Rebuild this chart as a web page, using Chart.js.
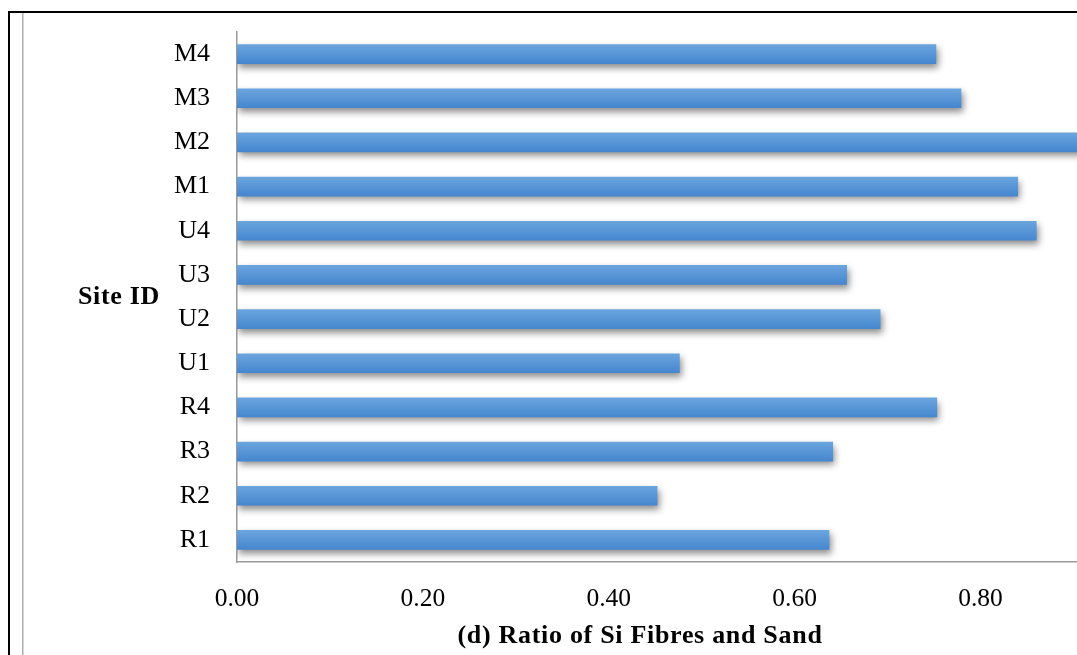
<!DOCTYPE html>
<html><head><meta charset="utf-8">
<script src="https://cdn.jsdelivr.net/npm/chart.js@4.4.0/dist/chart.umd.min.js"></script>
<style>html,body{margin:0;padding:0;background:#fff;} #wrap{width:1077px;height:655px;position:relative;overflow:hidden;}</style>
</head><body><div id="wrap"><canvas id="c" width="1077" height="655"></canvas></div>
<script>
const categories = ['M4','M3','M2','M1','U4','U3','U2','U1','R4','R3','R2','R1'];
const ratioValues = [0.752,0.779,0.925,0.840,0.860,0.656,0.692,0.476,0.753,0.641,0.452,0.637];
const xTickValues = [0, 0.2, 0.4, 0.6, 0.8];
const xAxisTitle = '(d) Ratio of Si Fibres and Sand';
const yAxisTitle = 'Site ID';
const xMax = 0.9038;

const FONT = '"Liberation Serif", "Times New Roman", serif';

const framePlugin = {
  id: 'frame',
  beforeDraw(chart) {
    const ctx = chart.ctx;
    ctx.save();
    ctx.fillStyle = '#fff';
    ctx.fillRect(0, 0, chart.width, chart.height);
    ctx.fillStyle = '#000';
    ctx.fillRect(8, 11, chart.width - 8, 2);
    ctx.fillRect(8, 11, 2, chart.height - 11);
    ctx.fillStyle = '#b0b0b0';
    ctx.fillRect(22, 13, 1.5, chart.height - 13);
    ctx.restore();
  },
  afterDraw(chart) {
    const ctx = chart.ctx;
    const a = chart.chartArea;
    ctx.save();
    ctx.fillStyle = '#000';
    ctx.font = 'bold 26px ' + FONT;
    try { ctx.letterSpacing = '0.7px'; } catch (e) {}
    ctx.textAlign = 'center';
    ctx.textBaseline = 'middle';
    ctx.fillText(yAxisTitle, 119, (a.top + a.bottom) / 2);
    ctx.fillText(xAxisTitle, 640, 636);
    ctx.restore();
  }
};

const shadowPlugin = {
  id: 'barShadow',
  beforeDatasetsDraw(chart) {
    const ctx = chart.ctx;
    ctx.save();
    ctx.shadowColor = 'rgba(0,0,0,0.45)';
    ctx.shadowBlur = 7;
    ctx.shadowOffsetX = 2;
    ctx.shadowOffsetY = 4;
  },
  afterDatasetsDraw(chart) {
    chart.ctx.restore();
  }
};

function barFill(context) {
  const chart = context.chart;
  const ys = chart.scales && chart.scales.y;
  if (!ys || context.dataIndex === undefined) return '#5596d6';
  const y = ys.getPixelForValue(context.dataIndex);
  if (!isFinite(y)) return '#5596d6';
  const g = chart.ctx.createLinearGradient(0, y - 9.5, 0, y + 9.5);
  g.addColorStop(0, '#6ba5de');
  g.addColorStop(1, '#4586cf');
  return g;
}

new Chart(document.getElementById('c'), {
  type: 'bar',
  data: {
    labels: categories,
    datasets: [{
      data: ratioValues,
      backgroundColor: barFill,
      borderWidth: 0,
      barThickness: 19
    }]
  },
  options: {
    indexAxis: 'y',
    responsive: false,
    devicePixelRatio: 1,
    animation: false,
    layout: { padding: { top: 32, left: 0, right: 0, bottom: 0 } },
    plugins: { legend: { display: false }, tooltip: { enabled: false }, title: { display: false } },
    scales: {
      x: {
        type: 'linear',
        min: 0,
        max: xMax,
        grid: { display: false, drawTicks: false },
        border: { display: true, color: '#9a9a9a', width: 1.5 },
        afterBuildTicks(scale) { scale.ticks = xTickValues.map(v => ({ value: v })); },
        afterFit(scale) { scale.height = 93; scale.paddingLeft = 0; scale.paddingRight = 0; },
        ticks: {
          color: '#000',
          font: { family: FONT, size: 25.5 },
          padding: 22,
          maxRotation: 0,
          callback: v => Number(v).toFixed(2)
        }
      },
      y: {
        grid: { display: false, drawTicks: false },
        border: { display: true, color: '#9a9a9a', width: 1.5 },
        afterFit(scale) { scale.width = 237; scale.paddingTop = 0; scale.paddingBottom = 0; },
        ticks: {
          color: '#000',
          font: { family: FONT, size: 26 },
          padding: 27
        }
      }
    }
  },
  plugins: [framePlugin, shadowPlugin]
});
</script>
</body></html>
